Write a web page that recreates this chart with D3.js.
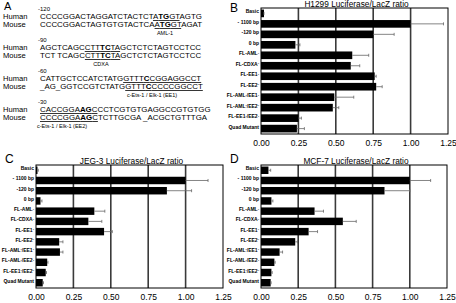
<!DOCTYPE html>
<html>
<head>
<meta charset="utf-8">
<script src="https://cdn.jsdelivr.net/npm/d3@7"></script>
<style>
  body { margin: 0; background: #fff; }
  svg { display: block; font-family: Arial, 'Liberation Sans', sans-serif; }
</style>
</head>
<body>
<div class="container"></div>
<script>
var categories = ['Basic', '- 1100 bp', '-120 bp', '0 bp', 'FL-AML\u207B', 'FL-CDXA\u207B',
    'FL-EE1\u207B', 'FL-EE2\u207B', 'FL-AML\u207B/EE1\u207B', 'FL-AML\u207B/EE2\u207B',
    'FL-EE1\u207B/EE2\u207B', 'Quad Mutant'];

var xTicks = [0, 0.25, 0.5, 0.75, 1.0, 1.25];

var h1299Values = [0.02, 1.00, 0.75, 0.23, 0.61, 0.60, 0.76, 0.77, 0.49, 0.48, 0.25, 0.24];
var h1299Errors = [0, 0.22, 0.14, 0.03, 0.11, 0.06, 0.01, 0.04, 0.13, 0.04, 0.02, 0.05];

var jeg3Values = [0.01, 1.00, 0.875, 0.03, 0.39, 0.35, 0.455, 0.155, 0.16, 0.075, 0.065, 0.045];
var jeg3Errors = [0.005, 0.15, 0.165, 0.01, 0.07, 0.09, 0.055, 0.025, 0.02, 0.005, 0.005, 0.005];

var mcf7Values = [0.05, 1.00, 0.83, 0.07, 0.36, 0.55, 0.32, 0.23, 0.125, 0.09, 0.07, 0.065];
var mcf7Errors = [0.015, 0.14, 0.17, 0.01, 0.06, 0.09, 0.06, 0.015, 0.02, 0.005, 0.005, 0.003];

// sequence rows: [text, bold, underline]
var seqRows = [
    {label: 'Human', seg: [['CCCCGGACTAGGATCTACTCT'], ['A', 0, 1], ['TG', 1, 1], ['GT', 0, 1], ['AGTG']]},
    {label: 'Mouse', seg: [['CCCCGGACTAGTGTGTACTCA'], ['A', 0, 1], ['TG', 1, 1], ['GT', 0, 1], ['AGAT']]},
    {label: 'Human', seg: [['AGCTCAGC'], ['CTT', 0, 1], ['TC', 1, 1], ['TA', 0, 1], ['GCTCTCTAGTCCTCC']]},
    {label: 'Mouse', seg: [['TCT TCAGC'], ['CTT', 0, 1], ['TC', 1, 1], ['TA', 0, 1], ['GCTCTCTAGTCCTCC']]},
    {label: 'Human', seg: [['CATTGCTCCATCTATG'], ['GTTT', 0, 1], ['C', 1, 1], ['CGGAGGCCT', 0, 1]]},
    {label: 'Mouse', seg: [['_AG_GGTCCGTCTATG'], ['GTTT', 0, 1], ['C', 1, 1], ['CCCCGGCCT', 0, 1]]},
    {label: 'Human', seg: [['CACCGGA', 0, 1], ['AG', 1, 1], ['C', 0, 1], ['CCTCGTGTGAGGCCGTGTGG']]},
    {label: 'Mouse', seg: [['CCCCGGA', 0, 1], ['AG', 1, 1], ['C', 0, 1], ['TCTTGCGA _ACGCTGTTTGA']]}
];
var positions = ['-120', '-90', '-60', '-30'];
var siteLabels = [
    {text: 'AML-1', x: 165, y: 35, anchor: 'middle'},
    {text: 'CDXA', x: 101, y: 66, anchor: 'middle'},
    {text: 'c-Ets-1 / Elk-1 (EE1)', x: 127, y: 97, anchor: 'start'},
    {text: 'c-Ets-1 / Elk-1 (EE2)', x: 37, y: 128, anchor: 'start'}
];

var W = 456, H = 303;
var translate = (x, y) => `translate(${ x },${ y })`;

var svg = d3.select('.container').append('svg')
    .attr('width', W)
    .attr('height', H);

// ---- panel A
var panelA = svg.append('g');
panelA.append('text').attr('x', 4).attr('y', 10).attr('font-size', 11).text('A');

positions.forEach((p, i) => {
    panelA.append('text')
        .attr('x', 38).attr('y', 11 + i * 31)
        .attr('font-size', 6).text(p);
});

seqRows.forEach((row, i) => {
    var y = 19 + Math.floor(i / 2) * 31 + (i % 2) * 8;
    panelA.append('text')
        .attr('x', 3).attr('y', y)
        .attr('font-size', 7.6).text(row.label);
    var t = panelA.append('text')
        .attr('x', 40).attr('y', y)
        .attr('font-size', 7.9);
    row.seg.forEach(s => {
        t.append('tspan')
            .attr('font-weight', s[1] ? 'bold' : 'normal')
            .attr('text-decoration', s[2] ? 'underline' : 'none')
            .text(s[0]);
    });
});

siteLabels.forEach(s => {
    panelA.append('text')
        .attr('x', s.x).attr('y', s.y)
        .attr('text-anchor', s.anchor)
        .attr('font-size', 5.5).text(s.text);
});

// category label with raised minus signs
var superMinus = function (d) {
    var t = d3.select(this).text('');
    var shift = 0;
    d.split(/(\u207B)/).filter(s => s.length).forEach(s => {
        if (s === '\u207B') {
            t.append('tspan').attr('dy', -1.6).attr('font-size', 4).text('-');
            shift = 1.6;
        } else {
            t.append('tspan').attr('dy', shift).text(s);
            shift = 0;
        }
    });
};

// ---- bar panels
var drawPanel = (values, errors, {letter, lx, ly, title, left, right, top, bottom}) => {
    var g = svg.append('g');

    var x = d3.scaleLinear().domain([0, 1.25]).range([left, right]);
    var y = d3.scaleBand().domain(categories).range([top, bottom]).paddingInner(0.27).paddingOuter(0.15);

    g.append('rect')
        .attr('x', left).attr('y', top)
        .attr('width', right - left).attr('height', bottom - top)
        .attr('fill', '#fff');

    g.selectAll('.grid')
        .data(xTicks.slice(1, -1))
        .enter().append('line')
        .attr('x1', x).attr('x2', x)
        .attr('y1', top).attr('y2', bottom)
        .attr('stroke', '#3a3a3a')
        .attr('stroke-width', 1.6);

    g.append('rect')
        .attr('x', left).attr('y', top)
        .attr('width', right - left).attr('height', bottom - top)
        .attr('fill', 'none')
        .attr('stroke', '#000')
        .attr('stroke-width', 1);

    g.selectAll('.bar')
        .data(values)
        .enter().append('rect')
        .attr('x', left)
        .attr('y', (d, i) => y(categories[i]))
        .attr('width', d => x(d) - left)
        .attr('height', y.bandwidth())
        .attr('fill', '#000');

    var eb = g.selectAll('.err')
        .data(values)
        .enter().append('g')
        .attr('stroke', '#666')
        .attr('stroke-width', 0.8);
    eb.append('line')
        .attr('x1', d => x(d))
        .attr('x2', (d, i) => x(d + errors[i]))
        .attr('y1', (d, i) => y(categories[i]) + y.bandwidth() / 2)
        .attr('y2', (d, i) => y(categories[i]) + y.bandwidth() / 2);
    eb.append('line')
        .attr('x1', (d, i) => x(d + errors[i]))
        .attr('x2', (d, i) => x(d + errors[i]))
        .attr('y1', (d, i) => y(categories[i]) + y.bandwidth() / 2 - 1.5)
        .attr('y2', (d, i) => y(categories[i]) + y.bandwidth() / 2 + 1.5);

    var yAxis = d3.axisLeft(y).tickSize(0).tickPadding(2);
    g.append('g')
        .attr('transform', translate(left, 0))
        .call(yAxis)
        .call(a => a.select('.domain').remove())
        .selectAll('text')
        .attr('font-size', 5)
        .attr('font-weight', 'bold')
        .attr('font-family', 'Arial, Liberation Sans, sans-serif')
        .attr('fill', '#000')
        .each(superMinus);

    var xAxis = d3.axisBottom(x).tickValues(xTicks).tickFormat(d3.format('.2f')).tickSize(0).tickPadding(6);
    g.append('g')
        .attr('transform', translate(0, bottom))
        .call(xAxis)
        .call(a => a.select('.domain').remove())
        .selectAll('text')
        .attr('font-size', 8.5)
        .attr('font-family', 'Arial, Liberation Sans, sans-serif')
        .attr('fill', '#000');

    g.append('text')
        .attr('x', (left + right) / 2 + 2).attr('y', top - 1.5)
        .attr('text-anchor', 'middle')
        .attr('font-size', 8.3)
        .text(title);

    g.append('text')
        .attr('x', lx).attr('y', ly)
        .attr('font-size', 12)
        .text(letter);
};

drawPanel(h1299Values, h1299Errors, {letter: 'B', lx: 230, ly: 12, title: 'H1299 Luciferase/LacZ ratio',
    left: 261, right: 448, top: 8, bottom: 134});
drawPanel(jeg3Values, jeg3Errors, {letter: 'C', lx: 5, ly: 163, title: 'JEG-3 Luciferase/LacZ ratio',
    left: 36, right: 223, top: 165, bottom: 288});
drawPanel(mcf7Values, mcf7Errors, {letter: 'D', lx: 230, ly: 163, title: 'MCF-7 Luciferase/LacZ ratio',
    left: 261, right: 447, top: 165, bottom: 288});
</script>
</body>
</html>
